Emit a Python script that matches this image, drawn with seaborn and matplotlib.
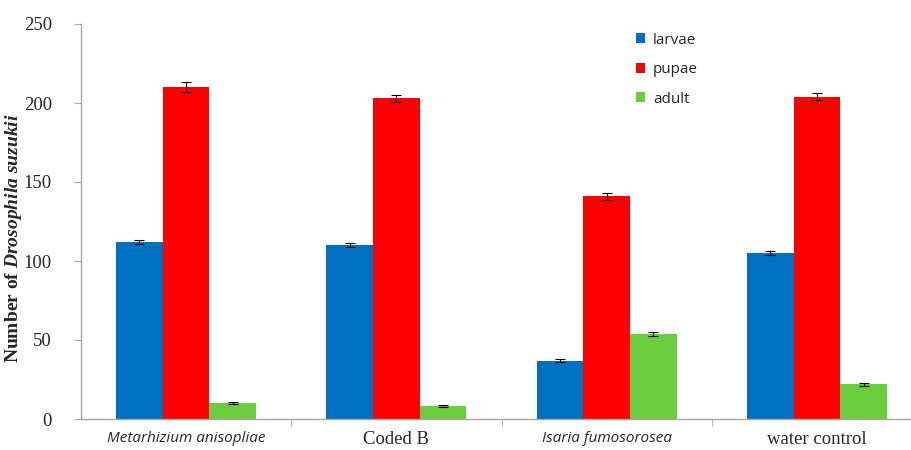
import matplotlib
matplotlib.use("Agg")
import matplotlib.pyplot as plt
import numpy as np
import pandas as pd
import seaborn as sns
from matplotlib.ticker import FixedLocator, MultipleLocator

# data
treatments = ["Metarhizium anisopliae", "Coded B", "Isaria fumosorosea", "water control"]
stages = ["larvae", "pupae", "adult"]
larvae = [112, 110, 37, 105]
pupae = [210, 203, 141, 204]
adult = [10, 8, 54, 22]
larvae_err = [1.2, 1.2, 1.0, 1.2]
pupae_err = [3.0, 2.2, 2.2, 2.2]
adult_err = [0.6, 0.6, 1.2, 0.9]

colors = ["#0070C0", "#FF0000", "#6ACD3E"]

df = pd.DataFrame({
    "treatment": treatments * 3,
    "stage": np.repeat(stages, len(treatments)),
    "value": larvae + pupae + adult,
})
errs = [larvae_err, pupae_err, adult_err]

sns.set_style("white")
plt.rcParams["mathtext.fontset"] = "custom"
plt.rcParams["mathtext.it"] = "Liberation Serif:italic:bold"
plt.rcParams["mathtext.rm"] = "Liberation Serif:bold"

fig = plt.figure(figsize=(9.12, 4.5), dpi=100)
ax = fig.add_axes([81 / 912, 31 / 450, 841 / 912, 395 / 450])

sns.barplot(data=df, x="treatment", y="value", hue="stage", order=treatments,
            hue_order=stages, palette=colors, width=0.667, errorbar=None,
            saturation=1, ax=ax, linewidth=0)

# error bars at the bar centres
for cont, e in zip(ax.containers, errs):
    xs = [p.get_x() + p.get_width() / 2 for p in cont.patches]
    ys = [p.get_height() for p in cont.patches]
    ax.errorbar(xs, ys, yerr=e, fmt="none", ecolor="black", elinewidth=0.8,
                capsize=3.5, capthick=0.8)

ax.set_xlim(-0.5, 3.5)
ax.set_ylim(0, 250)
ax.yaxis.set_major_locator(MultipleLocator(50))

# spines
for s in ["top", "right"]:
    ax.spines[s].set_visible(False)
for s in ["left", "bottom"]:
    ax.spines[s].set_color("#A6A6A6")
    ax.spines[s].set_linewidth(1.0)

ax.tick_params(axis="y", which="major", left=True, length=5, color="#A6A6A6",
               direction="out", labelsize=13.5, pad=16)
ax.tick_params(axis="x", which="major", bottom=False, pad=5)
ax.xaxis.set_minor_locator(FixedLocator([0.5, 1.5, 2.5]))
ax.tick_params(axis="x", which="minor", bottom=True, length=5, color="#A6A6A6",
               direction="out")

for lab in ax.get_yticklabels():
    lab.set_fontfamily("Liberation Serif")

ax.set_xticks(range(len(treatments)))
ax.set_xticklabels(treatments)
xfonts = [("Open Sans", "italic", 11), ("Liberation Serif", "normal", 13.5),
          ("Open Sans", "italic", 11), ("Liberation Serif", "normal", 13.5)]
for lab, (fam, sty, sz) in zip(ax.get_xticklabels(), xfonts):
    lab.set_fontfamily(fam)
    lab.set_fontstyle(sty)
    lab.set_fontsize(sz)

ax.set_xlabel("")
ax.set_ylabel(r"Number of $\it{Drosophila\ suzukii}$", fontfamily="Liberation Serif",
              fontweight="bold", fontsize=14, math_fontfamily="custom")
ax.yaxis.set_label_coords(-0.0675, 0.458)

# legend
handles, labels = ax.get_legend_handles_labels()
leg = ax.legend(handles, labels, loc="upper left", bbox_to_anchor=(0.643, 1.013),
                frameon=False, handlelength=0.65, handleheight=0.65,
                labelspacing=0.95, handletextpad=0.5,
                prop={"family": "Open Sans", "size": 11})

fig.savefig("out.png", dpi=100)
